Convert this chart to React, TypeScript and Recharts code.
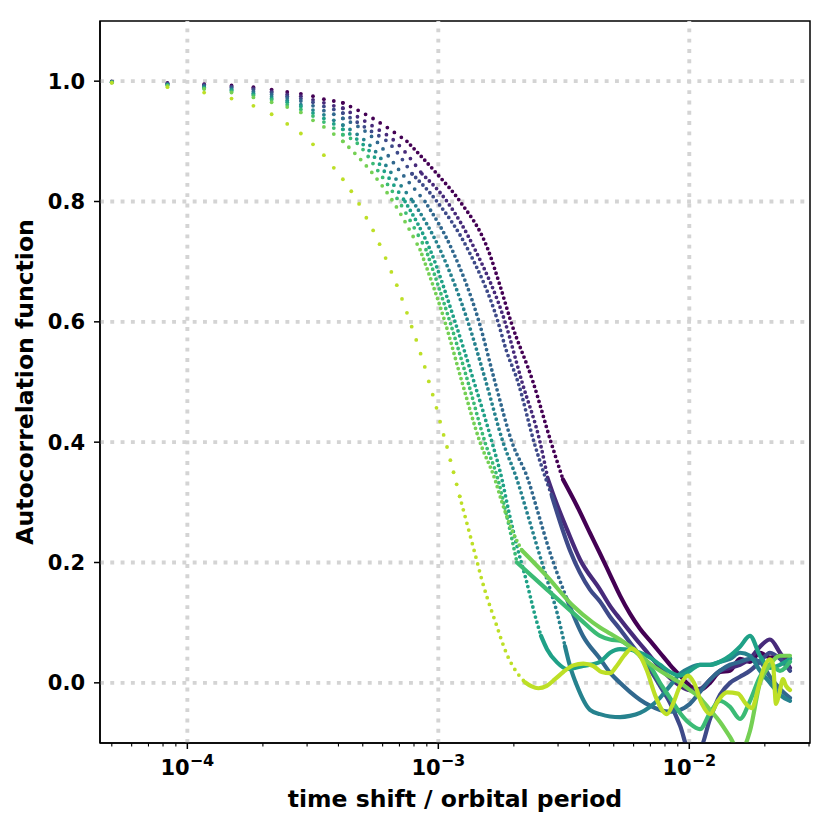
import React from 'react';
import { ComposedChart, Line, XAxis, YAxis, ReferenceLine, ReferenceArea, Label } from 'recharts';

// ---- sample times (time shift / orbital period) of the first lags ----
const SAMPLE_T = [
  5.0e-5, 8.333e-5, 1.1667e-4, 1.5e-4, 1.8333e-4, 2.1667e-4, 2.5e-4, 2.8333e-4, 3.1667e-4, 3.5e-4,
  3.8333e-4, 4.1667e-4, 4.5e-4, 4.8333e-4, 5.1667e-4, 5.5e-4, 5.8333e-4, 6.1667e-4, 6.5e-4, 6.8333e-4,
  7.1667e-4, 7.5e-4, 7.8333e-4, 8.1667e-4, 8.5e-4, 8.8333e-4, 9.1667e-4, 9.5e-4, 9.8333e-4, 1.01667e-3,
  1.05e-3, 1.08333e-3, 1.11667e-3, 1.15e-3, 1.18333e-3, 1.21667e-3,
];
const N_EARLY = 12;

// ---- common tail times ----
const TAIL_T = [
  4.408e-3, 4.832e-3, 5.297e-3, 5.803e-3, 6.362e-3, 6.973e-3, 7.644e-3, 8.377e-3, 9.183e-3, 1.006e-2,
  1.103e-2, 1.209e-2, 1.326e-2, 1.453e-2, 1.592e-2, 1.745e-2, 1.913e-2, 2.097e-2, 2.298e-2, 2.519e-2,
];

// ---- series 0 (darkest) ----
const S0_EARLY = [0.999, 0.997, 0.995, 0.993, 0.99, 0.986, 0.982, 0.979, 0.975, 0.97, 0.967, 0.964];
const S0_MID: [number, number][] = [
  [5.49e-4, 0.938], [7.5e-4, 0.9], [9.88e-4, 0.846], [1.221e-3, 0.8], [1.578e-3, 0.72], [1.762e-3, 0.66],
  [1.948e-3, 0.6], [2.385e-3, 0.5], [2.812e-3, 0.4], [3.139e-3, 0.338], [3.569e-3, 0.294], [4.021e-3, 0.249],
];
const S0_TAIL = [0.215, 0.18, 0.145, 0.115, 0.09, 0.07, 0.05, 0.03, 0.012, -0.005, -0.012, 0.0, 0.018, 0.02, 0.04, 0.035, 0.05, 0.042, 0.045, 0.04];

// ---- series 1 ----
const S1_EARLY = [0.999, 0.996, 0.994, 0.991, 0.988, 0.983, 0.978, 0.975, 0.969, 0.964, 0.959, 0.955];
const S1_MID: [number, number][] = [
  [5.49e-4, 0.925], [6.72e-4, 0.9], [8.61e-4, 0.846], [1.083e-3, 0.8], [1.401e-3, 0.72], [1.844e-3, 0.6],
  [2.155e-3, 0.5], [2.543e-3, 0.4], [2.736e-3, 0.338], [2.917e-3, 0.305], [3.256e-3, 0.255], [3.669e-3, 0.205],
];
const S1_TAIL = [0.155, 0.128, 0.106, 0.085, 0.065, 0.045, 0.025, 0.008, -0.005, -0.012, -0.01, 0.005, 0.02, 0.025, 0.03, 0.04, 0.06, 0.072, 0.05, 0.025];

// ---- series 2 ----
const S2_EARLY = [0.999, 0.996, 0.993, 0.99, 0.986, 0.981, 0.975, 0.971, 0.965, 0.958, 0.953, 0.947];
const S2_MID: [number, number][] = [
  [5.49e-4, 0.915], [6.25e-4, 0.9], [7.86e-4, 0.846], [9.88e-4, 0.8], [1.313e-3, 0.72], [1.729e-3, 0.6],
  [1.861e-3, 0.554], [2.077e-3, 0.5], [2.407e-3, 0.4], [2.838e-3, 0.31], [3.347e-3, 0.22], [4.021e-3, 0.155],
];
const S2_TAIL = [0.135, 0.11, 0.089, 0.067, 0.045, 0.022, -0.005, -0.033, -0.071, -0.115, -0.11, -0.06, -0.02, 0.0, 0.01, 0.02, 0.035, 0.05, 0.04, 0.02];

// ---- series 3 ----
const S3_EARLY = [0.999, 0.995, 0.992, 0.988, 0.983, 0.978, 0.972, 0.967, 0.959, 0.951, 0.945, 0.938];
const S3_MID: [number, number][] = [
  [5.49e-4, 0.906], [7.17e-4, 0.846], [8.85e-4, 0.8], [1.134e-3, 0.72], [1.453e-3, 0.6], [1.682e-3, 0.5],
  [1.966e-3, 0.4], [2.278e-3, 0.338], [2.496e-3, 0.283], [2.736e-3, 0.227], [3.256e-3, 0.139], [3.771e-3, 0.078],
];
const S3_TAIL = [0.04, 0.017, 0.0, -0.015, -0.028, -0.038, -0.045, -0.048, -0.045, -0.035, -0.015, 0.005, 0.02, 0.03, 0.035, 0.04, 0.035, 0.01, -0.01, -0.025];

// ---- series 4 ----
const S4_EARLY = [0.998, 0.994, 0.99, 0.986, 0.98, 0.974, 0.968, 0.961, 0.952, 0.944, 0.935, 0.927];
const S4_MID: [number, number][] = [
  [5.49e-4, 0.888], [6.54e-4, 0.846], [7.93e-4, 0.8], [1.016e-3, 0.72], [1.313e-3, 0.6], [1.549e-3, 0.5],
  [1.811e-3, 0.4], [2.058e-3, 0.338], [2.257e-3, 0.283], [2.474e-3, 0.227], [2.711e-3, 0.172], [2.971e-3, 0.117],
  [3.197e-3, 0.061], [3.347e-3, 0.028], [3.569e-3, -0.005], [4.021e-3, -0.045],
];
const S4_TAIL = [-0.052, -0.056, -0.057, -0.055, -0.05, -0.04, -0.025, -0.005, 0.015, 0.025, 0.03, 0.03, 0.035, 0.04, 0.05, 0.045, 0.02, 0.0, -0.02, -0.03];

// ---- series 5 ----
const S5_EARLY = [0.998, 0.994, 0.989, 0.985, 0.978, 0.971, 0.965, 0.958, 0.947, 0.938, 0.929, 0.92];
const S5_MID: [number, number][] = [
  [5.49e-4, 0.877], [6.19e-4, 0.846], [7.37e-4, 0.8], [9.27e-4, 0.72], [1.166e-3, 0.6], [1.388e-3, 0.5],
  [1.637e-3, 0.4], [1.794e-3, 0.338], [1.913e-3, 0.283], [2.058e-3, 0.227], [2.236e-3, 0.172], [2.451e-3, 0.106],
  [2.566e-3, 0.078], [2.711e-3, 0.056], [2.971e-3, 0.034], [3.256e-3, 0.023], [3.771e-3, 0.028],
];
const S5_TAIL = [0.035, 0.05, 0.056, 0.055, 0.05, 0.042, 0.03, 0.018, 0.012, 0.02, 0.03, 0.03, 0.035, 0.045, 0.06, 0.078, 0.045, 0.025, 0.03, 0.04];

// ---- series 6 ----
const S6_EARLY = [0.998, 0.993, 0.988, 0.983, 0.976, 0.969, 0.961, 0.953, 0.942, 0.932, 0.922, 0.911];
const S6_MID: [number, number][] = [
  [4.66e-4, 0.9], [5.86e-4, 0.846], [6.97e-4, 0.8], [8.93e-4, 0.72], [1.113e-3, 0.6], [1.313e-3, 0.5],
  [1.535e-3, 0.4], [1.729e-3, 0.338], [1.861e-3, 0.283], [2.058e-3, 0.2], [2.711e-3, 0.155], [3.669e-3, 0.106],
];
const S6_TAIL = [0.078, 0.072, 0.07, 0.06, 0.045, 0.028, 0.0, -0.025, -0.05, -0.068, -0.077, -0.05, -0.03, -0.04, -0.06, -0.03, 0.01, 0.03, 0.02, 0.035];

// ---- series 7 ----
const S7_EARLY = [0.998, 0.992, 0.987, 0.981, 0.973, 0.965, 0.957, 0.948, 0.935, 0.924, 0.912, 0.9];
const S7_MID: [number, number][] = [
  [5.49e-4, 0.846], [6.6e-4, 0.8], [8.46e-4, 0.72], [1.063e-3, 0.6], [1.243e-3, 0.5], [1.466e-3, 0.4],
  [1.682e-3, 0.338], [1.794e-3, 0.3], [1.984e-3, 0.25], [2.155e-3, 0.22], [2.711e-3, 0.177], [3.441e-3, 0.128],
  [4.133e-3, 0.1],
];
const S7_TAIL = [0.092, 0.082, 0.072, 0.06, 0.046, 0.032, 0.02, 0.01, 0.0, -0.012, -0.025, -0.045, -0.065, -0.09, -0.115, -0.08, 0.0, 0.03, 0.045, 0.045];

// ---- series 8 (lightest) ----
const S8_EARLY = [
  0.997, 0.99, 0.981, 0.971, 0.959, 0.945, 0.929, 0.913, 0.895, 0.877, 0.856, 0.837, 0.817, 0.796, 0.773,
  0.752, 0.729, 0.706, 0.683, 0.661, 0.638, 0.615, 0.592, 0.57, 0.547, 0.525, 0.501, 0.479, 0.457, 0.434,
  0.412, 0.392, 0.37, 0.35, 0.33, 0.31,
];
const S8_REST: [number, number][] = [
  [1.289e-3, 0.271], [1.359e-3, 0.235], [1.426e-3, 0.202], [1.489e-3, 0.172], [1.559e-3, 0.144], [1.632e-3, 0.119],
  [1.709e-3, 0.095], [1.789e-3, 0.07], [1.873e-3, 0.048], [1.961e-3, 0.031], [2.102e-3, 0.012], [2.215e-3, 0.001],
  [2.356e-3, -0.006], [2.502e-3, -0.009], [2.704e-3, -0.005], [2.917e-3, 0.006], [3.148e-3, 0.018], [3.45e-3, 0.029],
  [3.782e-3, 0.032], [4.145e-3, 0.028], [4.477e-3, 0.018], [4.832e-3, 0.016], [5.138e-3, 0.028], [5.495e-3, 0.045],
  [5.896e-3, 0.057], [6.362e-3, 0.045], [6.785e-3, 0.02], [7.3e-3, -0.02], [7.783e-3, -0.045], [8.149e-3, -0.052],
  [8.611e-3, -0.035], [9.183e-3, -0.005], [9.881e-3, 0.012], [1.044e-2, 0.0], [1.123e-2, -0.035], [1.209e-2, -0.052],
  [1.301e-2, -0.03], [1.413e-2, -0.016], [1.563e-2, -0.018], [1.682e-2, -0.035], [1.778e-2, -0.042], [1.878e-2, -0.01],
  [1.984e-2, 0.025], [2.097e-2, 0.039], [2.157e-2, 0.03], [2.216e-2, -0.035], [2.278e-2, -0.02], [2.363e-2, 0.006],
  [2.429e-2, -0.005], [2.519e-2, -0.012],
];

const COLORS = ['#440154', '#472a7a', '#3e4a89', '#31688e', '#26828e', '#1fa187', '#3bbb75', '#75d054', '#bddf26'];
// time where the sparse markers get closer together
const T_DENSE = 7.2e-4;
// time from which the dense markers merge into a solid band
const SOLID_FROM = [3.139e-3, 2.736e-3, 2.838e-3, 3.256e-3, 3.197e-3, 2.566e-3, 2.058e-3, 2.155e-3, 2.215e-3];

const X_DOMAIN: [number, number] = [4.487e-5, 3.027e-2];
const X_TICKS = [
  5e-5, 6e-5, 7e-5, 8e-5, 9e-5, 1e-4, 2e-4, 3e-4, 4e-4, 5e-4, 6e-4, 7e-4, 8e-4, 9e-4, 1e-3,
  2e-3, 3e-3, 4e-3, 5e-3, 6e-3, 7e-3, 8e-3, 9e-3, 1e-2, 2e-2, 3e-2,
];
const X_MAJOR = [1e-4, 1e-3, 1e-2];
const Y_TICKS = [0, 0.2, 0.4, 0.6, 0.8, 1.0];

const FONT = 'DejaVu Sans';

type P = { t: number; v: number };
const fromLists = (ts: number[], vs: number[]): P[] => vs.map((v, i) => ({ t: ts[i], v }));
const fromPairs = (a: [number, number][]): P[] => a.map(([t, v]) => ({ t, v }));

function splitAt(pts: P[], tCut: number): [P[], P[]] {
  const i = pts.findIndex((p) => p.t >= tCut);
  if (i < 0) return [pts, []];
  return [pts.slice(0, i + 1), pts.slice(i)];
}

const EARLY_LISTS = [S0_EARLY, S1_EARLY, S2_EARLY, S3_EARLY, S4_EARLY, S5_EARLY, S6_EARLY, S7_EARLY];
const MID_LISTS = [S0_MID, S1_MID, S2_MID, S3_MID, S4_MID, S5_MID, S6_MID, S7_MID];
const TAIL_LISTS = [S0_TAIL, S1_TAIL, S2_TAIL, S3_TAIL, S4_TAIL, S5_TAIL, S6_TAIL, S7_TAIL];

type Series = { color: string; dots: P[]; sparse: P[]; dense: P[]; solid: P[]; denseGap: number };

const SERIES: Series[] = [];
for (let i = 0; i < 8; i++) {
  const dots = fromLists(SAMPLE_T.slice(0, N_EARLY), EARLY_LISTS[i]);
  const rest = [dots[dots.length - 1], ...fromPairs(MID_LISTS[i]), ...fromLists(TAIL_T, TAIL_LISTS[i])];
  const [sparse, rest2] = splitAt(rest, T_DENSE);
  const [dense, solid] = splitAt(rest2, SOLID_FROM[i]);
  SERIES.push({ color: COLORS[i], dots, sparse, dense, solid, denseGap: 5.2 });
}
{
  const dots = fromLists(SAMPLE_T, S8_EARLY);
  const rest = [dots[dots.length - 1], ...fromPairs(S8_REST)];
  const [dense, solid] = splitAt(rest, SOLID_FROM[8]);
  SERIES.push({ color: COLORS[8], dots, sparse: [], dense, solid, denseGap: 7 });
}

function XTick(props: any) {
  const { x, y, payload } = props;
  const v = payload.value as number;
  const major = X_MAJOR.some((m) => Math.abs(v / m - 1) < 1e-6);
  const exp = Math.round(Math.log10(v));
  return (
    <g>
      <line x1={x} x2={x} y1={y} y2={y + (major ? 6 : 3.5)} stroke="#000" strokeWidth={major ? 1.5 : 1.1} />
      {major && (
        <text x={x} y={y + 32} textAnchor="middle" fontFamily={FONT} fontWeight={700} fontSize={21} fill="#000">
          10
          <tspan dy={-9} fontSize={16}>
            {'\u2212' + Math.abs(exp)}
          </tspan>
        </text>
      )}
    </g>
  );
}

const GRID = { stroke: '#d4d4d4', strokeWidth: 3.9, strokeDasharray: '3.9 6.4' };
const DOT_W = 3.8;

export default function App() {
  return (
    <div style={{ width: 815, height: 810 }}>
      <ComposedChart width={815} height={810} margin={{ top: 13, right: 13, bottom: 0, left: 0 }}>
        <XAxis
          dataKey="t"
          type="number"
          scale="log"
          domain={X_DOMAIN}
          allowDataOverflow
          ticks={X_TICKS}
          interval={0}
          tick={<XTick />}
          tickLine={false}
          tickSize={0}
          tickMargin={0}
          height={75}
          axisLine={{ stroke: '#000', strokeWidth: 1.5 }}
        >
          <Label
            content={({ viewBox }: any) => (
              <text
                x={viewBox.x + viewBox.width / 2}
                y={viewBox.y + 64}
                textAnchor="middle"
                fontFamily={FONT}
                fontWeight={700}
                fontSize={23.5}
                fill="#000"
              >
                time shift / orbital period
              </text>
            )}
          />
        </XAxis>
        <YAxis
          type="number"
          domain={[-0.1, 1.1]}
          allowDataOverflow
          ticks={Y_TICKS}
          interval={0}
          width={92}
          tickSize={6}
          tickMargin={9}
          tickFormatter={(v: number) => v.toFixed(1)}
          tick={{ fill: '#000', fontSize: 21, fontWeight: 700, fontFamily: FONT }}
          tickLine={{ stroke: '#000', strokeWidth: 1.5 }}
          axisLine={{ stroke: '#000', strokeWidth: 1.5 }}
        >
          <Label
            content={({ viewBox }: any) => {
              const cx = viewBox.x + 17;
              const cy = viewBox.y + viewBox.height / 2;
              return (
                <text
                  x={cx}
                  y={cy}
                  transform={`rotate(-90, ${cx}, ${cy})`}
                  textAnchor="middle"
                  dominantBaseline="central"
                  fontFamily={FONT}
                  fontWeight={700}
                  fontSize={23.5}
                  fill="#000"
                >
                  Autocorrelation function
                </text>
              );
            }}
          />
        </YAxis>

        {Y_TICKS.map((y) => (
          <ReferenceLine key={'gy' + y} y={y} {...GRID} />
        ))}
        {X_MAJOR.map((x) => (
          <ReferenceLine key={'gx' + x} x={x} {...GRID} />
        ))}

        {SERIES.flatMap((s, i) => [
          <Line
            key={'d' + i}
            data={s.dots}
            dataKey="v"
            stroke="none"
            dot={{ r: DOT_W / 2, fill: s.color, stroke: 'none', strokeWidth: 0 }}
            activeDot={false}
            isAnimationActive={false}
            legendType="none"
          />,
          <Line
            key={'a' + i}
            data={s.sparse}
            dataKey="v"
            type="monotone"
            stroke={s.color}
            strokeWidth={DOT_W}
            strokeDasharray="0 8.5"
            strokeLinecap="round"
            dot={false}
            activeDot={false}
            isAnimationActive={false}
            legendType="none"
          />,
          <Line
            key={'m' + i}
            data={s.dense}
            dataKey="v"
            type="monotone"
            stroke={s.color}
            strokeWidth={DOT_W}
            strokeDasharray={`0 ${s.denseGap}`}
            strokeLinecap="round"
            dot={false}
            activeDot={false}
            isAnimationActive={false}
            legendType="none"
          />,
          <Line
            key={'s' + i}
            data={s.solid}
            dataKey="v"
            type="monotone"
            stroke={s.color}
            strokeWidth={4.2}
            strokeLinecap="round"
            strokeLinejoin="round"
            dot={false}
            activeDot={false}
            isAnimationActive={false}
            legendType="none"
          />,
        ])}

        <ReferenceArea
          x1={X_DOMAIN[0]}
          x2={X_DOMAIN[1]}
          y1={-0.1}
          y2={1.1}
          fill="none"
          fillOpacity={0}
          stroke="#000"
          strokeWidth={1.5}
          ifOverflow="visible"
        />
      </ComposedChart>
    </div>
  );
}
